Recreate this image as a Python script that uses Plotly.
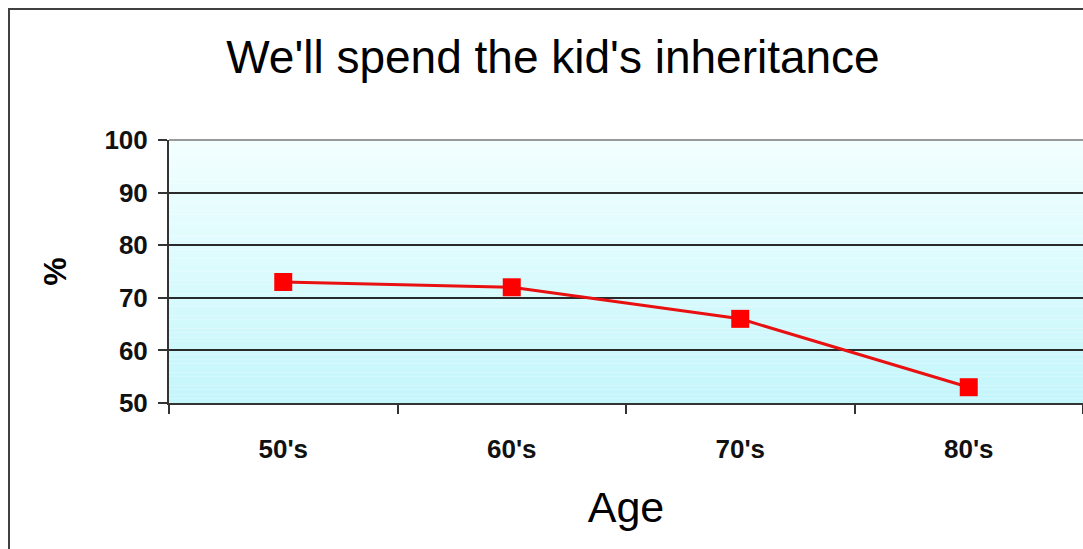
import plotly.graph_objects as go

categories = ["50's", "60's", "70's", "80's"]
values = [73, 72, 66, 53]
y_ticks = [50, 60, 70, 80, 90, 100]

W, H = 1083, 549
FONT = "Arial, Liberation Sans, sans-serif"

fig = go.Figure()
fig.add_trace(go.Scatter(
    x=categories, y=values, mode="lines+markers",
    line=dict(color="#e81010", width=3),
    marker=dict(symbol="square", size=18, color="#ff0000"),
    showlegend=False, hoverinfo="x+y",
))

# gradient plot background (white-cyan top to light cyan bottom)
shapes = []
n = 60
top = (242, 255, 255)
bot = (196, 246, 251)
for i in range(n):
    t = i / (n - 1)
    c = tuple(round(top[k] + (bot[k] - top[k]) * t) for k in range(3))
    shapes.append(dict(type="rect", xref="x domain", yref="y domain",
                       x0=0, x1=1, y0=1 - (i + 1) / n, y1=1 - i / n,
                       fillcolor="rgb(%d,%d,%d)" % c, line=dict(width=0),
                       layer="below"))
# plot-area top border (lighter)
shapes.append(dict(type="line", xref="x domain", yref="y domain",
                   x0=0, x1=1, y0=1, y1=1, line=dict(color="#9a9a9a", width=2),
                   layer="above"))
# chart border (left and top visible)
shapes.append(dict(type="rect", xref="paper", yref="paper",
                   x0=(9 - 169) / (W - 169), x1=1.2,
                   y0=-0.8, y1=(403 - 9) / (403 - 140),
                   line=dict(color="#404040", width=2), fillcolor="rgba(0,0,0,0)",
                   layer="above"))

fig.update_layout(
    width=W, height=H,
    margin=dict(l=169, r=0, t=140, b=146),
    paper_bgcolor="white", plot_bgcolor="rgba(0,0,0,0)",
    font=dict(family=FONT, color="black"),
    title=dict(text="We'll spend the kid's inheritance",
               x=553 / W, xanchor="center",
               y=1 - 57 / H, yanchor="middle", yref="container",
               font=dict(size=46, family=FONT, color="black")),
    shapes=shapes,
    xaxis=dict(
        type="category", tickson="boundaries", ticks="outside", ticklen=9,
        tickwidth=1.5, tickcolor="#333",
        showline=True, linecolor="#333", linewidth=2,
        showgrid=False, zeroline=False,
        tickfont=dict(size=26, family=FONT, color="#111", weight="bold"),
        ticklabelstandoff=22,
        title=dict(text="Age", font=dict(size=43, family=FONT, color="black"),
                   standoff=29),
        range=[-0.5, 3.5],
    ),
    yaxis=dict(
        range=[50, 100], tickvals=y_ticks, ticks="outside", ticklen=9,
        tickwidth=1.5, tickcolor="#333",
        showline=True, linecolor="#333", linewidth=2,
        showgrid=True, gridcolor="#2a2a2a", gridwidth=1.6, zeroline=False,
        tickfont=dict(size=26, family=FONT, color="#111", weight="bold"),
        ticklabelstandoff=5,
        title=dict(text="%", font=dict(size=32, family=FONT, color="black", weight="bold"),
                   standoff=28),
    ),
)

fig.write_html("out.html")
